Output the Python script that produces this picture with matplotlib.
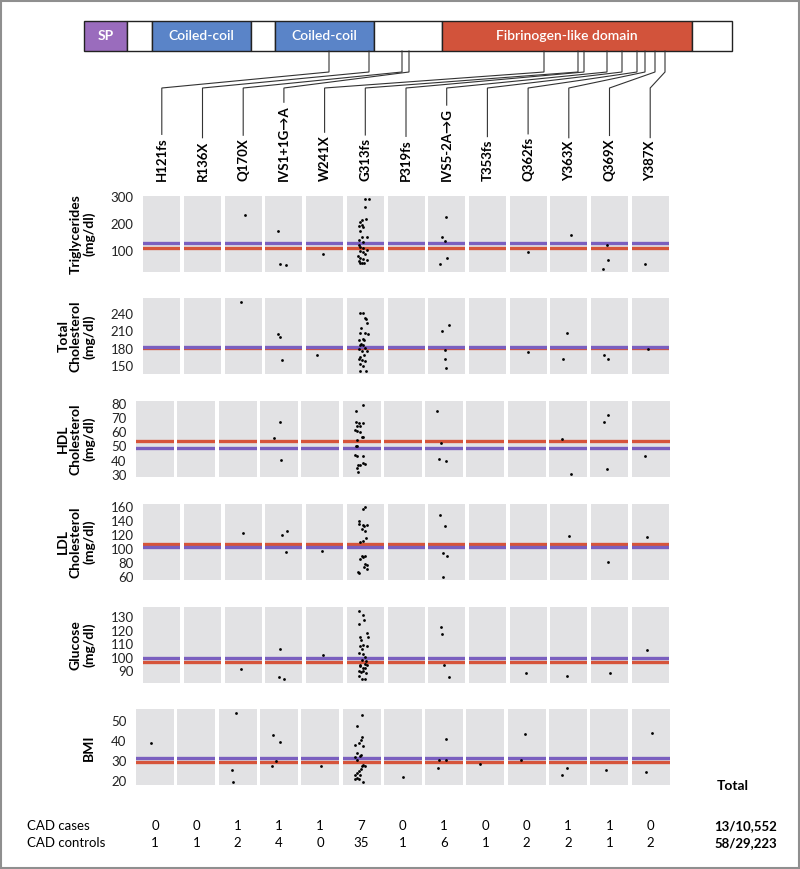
import matplotlib
matplotlib.use('Agg')
import matplotlib.pyplot as plt
from matplotlib.patches import Rectangle

plt.rcParams['font.family'] = ['Lato', 'DejaVu Sans']

# --- data ---
mutations = ['H121fs', 'R136X', 'Q170X', 'IVS1+1G\u2192A', 'W241X', 'G313fs', 'P319fs',
             'IVS5-2A\u2192G', 'T353fs', 'Q362fs', 'Y363X', 'Q369X', 'Y387X']
cad_cases = [0, 0, 1, 1, 1, 7, 0, 1, 0, 0, 1, 1, 0]
cad_controls = [1, 1, 2, 4, 0, 35, 1, 6, 1, 2, 2, 1, 2]
total_cases = '13/10,552'
total_controls = '58/29,223'

domain_names = ['SP', '', 'Coiled-coil', '', 'Coiled-coil', '', 'Fibrinogen-like domain', '']
domain_edges = [84, 127, 152, 251, 275, 374, 442, 692, 732]
domain_colors = ['#9a6cbd', 'white', '#5a84c8', 'white', '#5a84c8', 'white', '#d2533b', 'white']
bar_x = [329, 369, 402, 409, 544, 578, 584, 607, 622, 637, 645, 655, 665]

row_labels = ['Triglycerides\n(mg/dl)', 'Total\nCholesterol\n(mg/dl)', 'HDL\nCholesterol\n(mg/dl)',
              'LDL\nCholesterol\n(mg/dl)', 'Glucose\n(mg/dl)', 'BMI']
row_ticks = [[100, 200, 300], [150, 180, 210, 240], [30, 40, 50, 60, 70, 80],
             [60, 80, 100, 120, 140, 160], [90, 100, 110, 120, 130], [20, 30, 40, 50]]
row_red = [113, 181.5, 53.7, 108, 97, 29.1]
row_purple = [131, 182.5, 48.8, 103.4, 99.6, 31.1]

trig = [[], [], [234], [176, 54.5, 50], [91],
        [293, 293, 266, 217, 219, 207, 195, 196, 192, 174, 155, 155, 143, 134, 122, 118, 112, 104,
         100, 96, 91, 82, 74, 72, 67, 63, 59, 57, 57],
        [], [228, 155, 137, 75, 54.5], [], [96], [159], [125, 69, 35], [53]]
trig_dx = [[], [], [0.04], [-0.15, -0.1, 0.06], [-0.04],
           [0.0, 0.11, -0.02, -0.09, 0.02, -0.13, -0.17, -0.1, -0.06, -0.14, 0.04, -0.09, -0.18, -0.07,
            -0.18, -0.13, -0.05, 0.05, -0.14, -0.07, 0.0, -0.19, -0.13, -0.05, 0.04, -0.16, -0.09, -0.04, -0.14],
           [], [-0.02, -0.13, -0.05, 0.0, -0.19], [], [0.0], [0.06], [-0.07, -0.03, -0.17], [-0.13]]

tchol = [[], [], [260], [205, 200, 161.5], [169.6],
         [242, 241, 233, 232, 225, 216, 208, 206.5, 205, 197, 195, 195, 189, 186, 187, 182, 179, 176.5,
          176.5, 168.5, 166, 163, 160, 159, 154.6, 150, 141, 141],
         [], [221.5, 210, 177.7, 162, 146], [], [175], [207, 162], [169, 163], [180]]
tchol_dx = [[], [], [-0.05], [-0.15, -0.11, -0.05], [-0.2],
            [-0.13, -0.05, -0.02, 0.02, 0.04, -0.11, -0.13, -0.02, 0.07, -0.07, -0.18, -0.04, -0.11, -0.14,
             -0.05, 0.0, -0.18, -0.09, 0.04, -0.04, -0.14, -0.18, -0.09, -0.02, -0.13, -0.05, -0.14, 0.02],
            [], [0.05, -0.13, -0.05, -0.04, -0.02], [], [0.0], [-0.05, -0.15], [-0.15, -0.05], [-0.05]]

hdl = [[], [], [], [67, 55.6, 40.3], [],
       [79.3, 75.3, 67.3, 66.4, 66.4, 64.5, 64.5, 61.7, 60.5, 60.3, 56.5, 56.3, 54.6, 50.6, 50, 44, 43.4,
        43.4, 37, 36.8, 38.2, 37.3, 35, 31.6],
       [], [75.3, 52.3, 40.8, 39.6], [], [], [55.1, 30.2], [72.2, 67.3, 34.2], [43.4]]
hdl_dx = [[], [], [], [0.02, -0.13, 0.06], [],
          [0.05, -0.15, -0.14, -0.07, 0.03, -0.12, -0.05, -0.17, -0.11, -0.05, 0.0, 0.05, -0.11, -0.15,
           -0.12, -0.17, -0.13, 0.05, -0.08, -0.04, 0.05, 0.08, -0.12, -0.08],
          [], [-0.18, -0.09, -0.14, 0.04], [], [], [-0.17, 0.08], [-0.03, -0.13, -0.05], [-0.16]]

ldl = [[], [], [123.8], [120, 126, 95.7], [97.6],
       [160, 157, 141, 136, 134, 134, 133, 128.5, 126.6, 116, 110, 111.4, 90.5, 90.5, 88.6, 86.7, 79, 77,
        74.3, 71.4, 67.6, 65.7],
       [], [149.4, 133.7, 94.7, 90, 60], [], [], [118.6], [81.4], [118]]
ldl_dx = [[], [], [0.0], [-0.05, 0.08, 0.05], [-0.08],
          [-0.02, -0.07, -0.18, -0.18, -0.07, 0.05, -0.04, -0.09, 0.0, 0.02, -0.13, -0.05, -0.09, 0.0,
           -0.05, -0.13, -0.02, 0.04, -0.04, 0.04, -0.2, -0.16],
          [], [-0.17, -0.05, -0.09, 0.0, -0.11], [], [], [0.0], [-0.04], [-0.1]]

glucose = [[], [], [91.5], [106.9, 85.8, 84.8], [102],
           [134.9, 132, 128, 125, 118.5, 115.8, 115.3, 113.3, 109.4, 108.9, 108.9, 106.9, 103.5, 103, 101,
            98.1, 97.6, 94.7, 95.2, 94.7, 93.7, 92.7, 92.7, 90.7, 89.3, 90.2, 88.8, 86.3, 84.4, 84.4],
           [], [123.1, 117.7, 94.4, 85.8], [], [88.5], [86.6], [88.5], [106]]
glucose_dx = [[], [], [-0.07], [-0.1, -0.12, 0.0], [-0.03],
              [-0.18, -0.05, -0.04, -0.16, 0.04, 0.07, -0.14, -0.11, -0.05, 0.05, -0.14, -0.09, -0.18, -0.05,
               0.0, -0.09, 0.02, -0.13, -0.02, 0.05, -0.14, -0.07, 0.0, -0.16, -0.11, -0.05, 0.02, -0.18,
               -0.09, -0.02],
              [], [-0.16, -0.13, -0.07, 0.07], [], [-0.06], [-0.05], [0.0], [-0.1]]

bmi = [[38.6], [], [53.6, 25.3, 19.2], [42.7, 39.2, 29.9, 27.1], [27.3],
       [52.8, 47.5, 42, 40.4, 38.7, 37.9, 37.1, 33.8, 32.9, 32.4, 31.8, 30.1, 27.8, 27.1, 25.8, 24.6, 23.8,
        23, 23, 21.2, 20.8, 20.8, 19.5, 27.5],
       [21.7], [40.9, 30.1, 30.1, 26.3], [28.1], [43.2, 30.1], [26.3, 22.6], [25.1], [43.7, 24.1]]
bmi_dx = [[-0.11], [], [-0.05, -0.14, -0.12], [-0.16, 0.02, -0.08, -0.17], [0.02],
          [0.02, -0.12, 0.02, -0.02, -0.07, -0.18, 0.04, -0.12, -0.02, -0.05, -0.16, -0.12, 0.05, 0.02,
           -0.02, -0.07, -0.12, -0.18, -0.04, -0.11, -0.16, -0.07, 0.04, 0.09],
          [0.0], [0.04, -0.13, 0.05, -0.17], [-0.14], [-0.04, -0.16], [-0.02, -0.16], [-0.08], [0.05, -0.11]]

row_values = [trig, tchol, hdl, ldl, glucose, bmi]
row_dx = [trig_dx, tchol_dx, hdl_dx, ldl_dx, glucose_dx, bmi_dx]

# --- layout (pixels of the 800x869 canvas) ---
W, H = 800, 869
row_top = [195.7, 298.3, 401, 504, 606.7, 709.3]
row_h = 76
row_x0 = [143.3, 143.3, 136, 143.3, 143.3, 136]
row_w = [37, 37, 38, 37, 37, 38]
row_step = [40.7, 40.7, 41.3, 40.7, 40.7, 41.3]
row_ylim = [(25, 306), (136, 267), (28.4, 82), (56, 164.7), (81.7, 137.8), (17.7, 55.7)]

PANEL = '#e2e2e4'
RED = '#d6543a'
PURPLE = '#7a5fbf'

fig = plt.figure(figsize=(8, 8.69), dpi=100)
ov = fig.add_axes([0, 0, 1, 1])
ov.set_xlim(0, W)
ov.set_ylim(H, 0)
ov.axis('off')

# frame around figure
ov.add_patch(Rectangle((1, 1), W - 2, H - 2, fill=False, edgecolor='#8f8f8f', lw=1.5))

# protein domain bar
bar_top, bar_bot = 21, 51
for i, name in enumerate(domain_names):
    x0, x1 = domain_edges[i], domain_edges[i + 1]
    ov.add_patch(Rectangle((x0, bar_top), x1 - x0, bar_bot - bar_top,
                           facecolor=domain_colors[i], edgecolor='#222222', lw=1))
    if name:
        ov.text((x0 + x1) / 2, (bar_top + bar_bot) / 2 + 0.5, name, color='white', fontsize=10,
                fontweight='bold' if name == 'SP' else 'semibold', ha='center', va='center')

# mutation labels and connectors
col_cx = [row_x0[0] + row_w[0] / 2 + i * row_step[0] for i in range(len(mutations))]
labels = []
for i, m in enumerate(mutations):
    t = ov.text(col_cx[i], 181, m, rotation=90, ha='center', va='bottom',
                fontsize=9.5, fontweight='bold')
    labels.append(t)
fig.canvas.draw()
inv = ov.transData.inverted()
for i, t in enumerate(labels):
    bb = t.get_window_extent()
    ytop = inv.transform((0, bb.y1))[1]
    ov.plot([bar_x[i], bar_x[i], col_cx[i], col_cx[i]], [bar_bot, 72, 88, ytop - 3],
            color='#333333', lw=0.8, solid_joinstyle='miter')

# panels
for r in range(6):
    for c in range(len(mutations)):
        left = row_x0[r] + c * row_step[r]
        ax = fig.add_axes([left / W, 1 - (row_top[r] + row_h) / H, row_w[r] / W, row_h / H])
        ax.set_facecolor(PANEL)
        for s in ax.spines.values():
            s.set_visible(False)
        ax.set_xlim(-0.5, 0.5)
        ax.set_ylim(*row_ylim[r])
        ax.set_xticks([])
        ax.axhline(row_red[r], color=RED, lw=2.4, zorder=2)
        ax.axhline(row_purple[r], color=PURPLE, lw=2.4, zorder=3)
        ax.scatter(row_dx[r][c], row_values[r][c], s=4, color='black', zorder=4, linewidths=0)
        if c == 0:
            ax.set_yticks(row_ticks[r])
            ax.tick_params(axis='y', length=0, pad=7, labelsize=9.5, labelcolor='#222222')
        else:
            ax.set_yticks([])
    ov.text(95, row_top[r] + row_h / 2, row_labels[r], rotation=90, ha='right', va='center',
            multialignment='center', fontsize=10, fontweight='bold', linespacing=1.05)

# counts table
count_cx = [row_x0[2] + row_w[2] / 2 + i * row_step[2] for i in range(len(mutations))]
ov.text(733, 786, 'Total', ha='center', va='center', fontsize=10, fontweight='bold')
for y, name, vals, tot in [(826, 'CAD cases', cad_cases, total_cases),
                           (843, 'CAD controls', cad_controls, total_controls)]:
    ov.text(27, y, name, ha='left', va='center', fontsize=9.5)
    for i, v in enumerate(vals):
        ov.text(count_cx[i], y, str(v), ha='center', va='center', fontsize=9.5)
    ov.text(714, y, tot, ha='left', va='center', fontsize=9.5, fontweight='bold')

fig.savefig('out.png', dpi=100)
